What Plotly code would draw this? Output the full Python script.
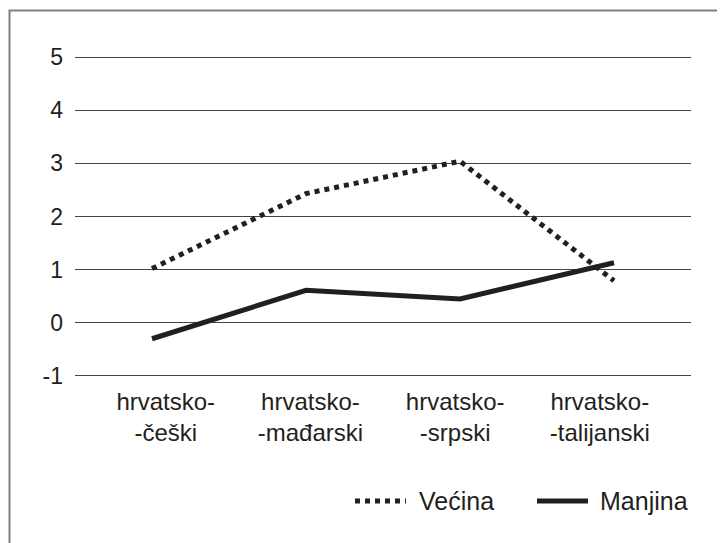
import plotly.graph_objects as go

categories = ["hrvatsko-<br>-češki", "hrvatsko-<br>-mađarski", "hrvatsko-<br>-srpski", "hrvatsko-<br>-talijanski"]
vecina = [1.02, 2.43, 3.04, 0.79]
manjina = [-0.30, 0.61, 0.45, 1.13]
y_ticks = [-1, 0, 1, 2, 3, 4, 5]
y_tick_labels = ["-1", "0", "1", "2", "3", "4", "5"]
series_names = ["Većina", "Manjina"]

FONT = "Liberation Sans, Arial, sans-serif"
INK = "#231f20"

# plot area in figure pixels
L, R, T, B = 67, 42, 48, 174
W, H = 725, 543
PW, PH = W - L - R, H - T - B


def px(x):
    return (x - L) / PW


def py(y):
    return (H - B - y) / PH


cat_idx = list(range(len(categories)))

fig = go.Figure()
fig.add_trace(go.Scatter(x=cat_idx, y=vecina, name=series_names[0], mode="lines",
                         line=dict(color=INK, width=5, dash="dot")))
fig.add_trace(go.Scatter(x=cat_idx, y=manjina, name=series_names[1], mode="lines",
                         line=dict(color=INK, width=5)))
# invisible helper trace so the label axis is drawn
fig.add_trace(go.Scatter(x=cat_idx, y=[None] * len(cat_idx), xaxis="x2", yaxis="y",
                         mode="lines", showlegend=False, hoverinfo="skip"))

leg_y = py(493)
shapes = [
    dict(type="rect", xref="paper", yref="paper",
         x0=px(1.5), x1=1.3, y0=-0.9, y1=py(2.5),
         line=dict(color="#808080", width=2), layer="below"),
    dict(type="line", xref="paper", yref="paper", x0=px(347), x1=px(398), y0=leg_y, y1=leg_y,
         line=dict(color=INK, width=5, dash="dot")),
    dict(type="line", xref="paper", yref="paper", x0=px(529), x1=px(580), y0=leg_y, y1=leg_y,
         line=dict(color=INK, width=5)),
]
annotations = [
    dict(xref="paper", yref="paper", x=px(409), y=leg_y, text=series_names[0], showarrow=False,
         xanchor="left", yanchor="middle", font=dict(size=25, color=INK)),
    dict(xref="paper", yref="paper", x=px(590), y=leg_y, text=series_names[1], showarrow=False,
         xanchor="left", yanchor="middle", font=dict(size=25, color=INK)),
]

fig.update_layout(
    width=W, height=H,
    margin=dict(l=L, r=R, t=T, b=B),
    paper_bgcolor="white", plot_bgcolor="white",
    font=dict(family=FONT, size=22, color=INK),
    showlegend=False,
    xaxis=dict(range=[-0.5, 3.5], showgrid=False, zeroline=False,
               showline=False, ticks="", showticklabels=False),
    xaxis2=dict(overlaying="x", anchor="y", side="bottom", range=[-0.627, 3.630],
                tickvals=cat_idx, ticktext=categories, showgrid=False, zeroline=False,
                showline=False, ticks="", ticklabelstandoff=8, tickfont=dict(size=24)),
    yaxis=dict(range=[-1.02, 5.02], tickvals=y_ticks, ticktext=y_tick_labels,
               showgrid=True, gridcolor="#444444",
               gridwidth=1, zeroline=False, showline=False, ticks="",
               ticklabelstandoff=11, tickfont=dict(size=23)),
    shapes=shapes,
    annotations=annotations,
)

fig.write_html("out.html")
